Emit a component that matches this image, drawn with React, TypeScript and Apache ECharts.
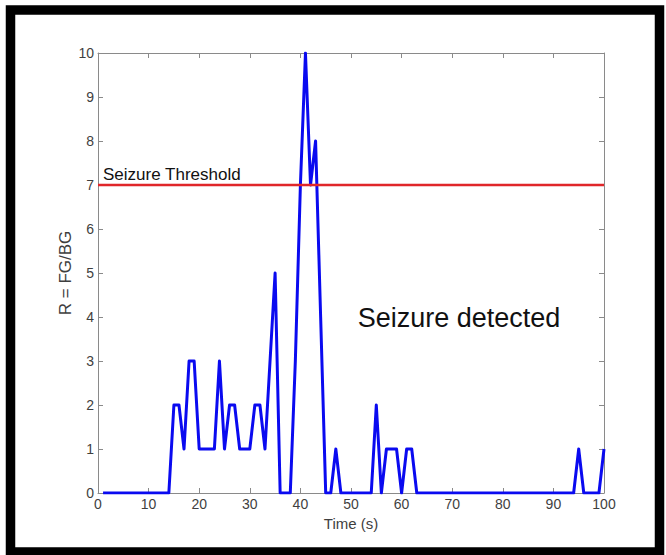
import React, { useEffect, useRef } from "react";
import * as echarts from "echarts";

// Time samples (s), one per second from 1 to 100
const timeStart = 1;
const timeCount = 100;
const times: number[] = Array.from({ length: timeCount }, (_, i) => timeStart + i);

// R = FG/BG values (t = 1 .. 100)
const ratioValues: number[] = [
  0, 0, 0, 0, 0, 0, 0, 0, 0, 0, // 1-10
  0, 0, 0, 0, 2, 2, 1, 3, 3, 1, // 11-20
  1, 1, 1, 3, 1, 2, 2, 1, 1, 1, // 21-30
  2, 2, 1, 3, 5, 0, 0, 0, 3, 7, // 31-40
  10, 7, 8, 4, 0, 0, 1, 0, 0, 0, // 41-50
  0, 0, 0, 0, 2, 0, 1, 1, 1, 0, // 51-60
  1, 1, 0, 0, 0, 0, 0, 0, 0, 0, // 61-70
  0, 0, 0, 0, 0, 0, 0, 0, 0, 0, // 71-80
  0, 0, 0, 0, 0, 0, 0, 0, 0, 0, // 81-90
  0, 0, 0, 0, 1, 0, 0, 0, 0, 1, // 91-100
];

const thresholdValue = 7;
const thresholdLabel = "Seizure Threshold";
const detectedLabel = "Seizure detected";

const xMin = 0;
const xMax = 100;
const xInterval = 10;
const yMin = 0;
const yMax = 10;
const yInterval = 1;

const FONT = "'Liberation Sans', Arial, Helvetica, sans-serif";

export default function App() {
  const ref = useRef<HTMLDivElement>(null);

  useEffect(() => {
    document.body.style.margin = "0";
    if (!ref.current) return;
    const chart = echarts.init(ref.current, undefined, { renderer: "svg" });

    const axisLineColor = "#8a8a8a";
    const labelColor = "#3f3f3f";

    const boxAxisLine = { show: true, onZero: false, lineStyle: { color: axisLineColor, width: 1 } };
    const boxTick = { show: true, inside: true, length: 5, lineStyle: { color: axisLineColor } };

    const option: any = {
      animation: false,
      backgroundColor: "#ffffff",
      textStyle: { fontFamily: FONT },
      grid: { left: 98, right: 62, top: 53, bottom: 62, containLabel: false },
      xAxis: [
        {
          type: "value",
          min: xMin,
          max: xMax,
          interval: xInterval,
          position: "bottom",
          name: "Time (s)",
          nameLocation: "middle",
          nameGap: 20,
          nameTextStyle: { fontSize: 15, color: labelColor, fontFamily: FONT },
          axisLine: boxAxisLine,
          axisTick: boxTick,
          axisLabel: { fontSize: 14, color: labelColor, margin: 4, fontFamily: FONT },
          splitLine: { show: false },
        },
        {
          type: "value",
          min: xMin,
          max: xMax,
          interval: xInterval,
          position: "top",
          axisLine: boxAxisLine,
          axisTick: boxTick,
          axisLabel: { show: false },
          splitLine: { show: false },
        },
      ],
      yAxis: [
        {
          type: "value",
          min: yMin,
          max: yMax,
          interval: yInterval,
          position: "left",
          name: "R = FG/BG",
          nameLocation: "middle",
          nameGap: 24,
          nameMoveOverlap: false,
          nameTextStyle: { fontSize: 17, color: labelColor, fontFamily: FONT },
          axisLine: boxAxisLine,
          axisTick: boxTick,
          axisLabel: { fontSize: 14, color: labelColor, margin: 4, fontFamily: FONT },
          splitLine: { show: false },
        },
        {
          type: "value",
          min: yMin,
          max: yMax,
          interval: yInterval,
          position: "right",
          axisLine: boxAxisLine,
          axisTick: boxTick,
          axisLabel: { show: false },
          splitLine: { show: false },
        },
      ],
      series: [
        {
          name: "R",
          type: "line",
          xAxisIndex: 0,
          yAxisIndex: 0,
          data: times.map((t, i) => [t, ratioValues[i]]),
          showSymbol: false,
          symbol: "none",
          lineStyle: { color: "#0a0af0", width: 3, join: "round" },
          z: 3,
        },
        {
          name: thresholdLabel,
          type: "line",
          xAxisIndex: 0,
          yAxisIndex: 0,
          data: [
            [xMin, thresholdValue],
            [xMax, thresholdValue],
          ],
          showSymbol: false,
          symbol: "none",
          lineStyle: { color: "#e0262a", width: 2.5 },
          z: 4,
        },
      ],
      graphic: [
        {
          type: "text",
          x: 103,
          y: 174,
          z: 10,
          style: {
            text: thresholdLabel,
            fontSize: 17,
            fontFamily: FONT,
            fill: "#111111",
            align: "left",
            verticalAlign: "middle",
          },
        },
        {
          type: "text",
          x: 459,
          y: 318,
          z: 10,
          style: {
            text: detectedLabel,
            fontSize: 27,
            fontFamily: FONT,
            fill: "#111111",
            align: "center",
            verticalAlign: "middle",
          },
        },
        {
          type: "rect",
          z: 20,
          shape: { x: 10.5, y: 10, width: 649, height: 542 },
          style: { fill: "none", stroke: "#000000", lineWidth: 9.5 },
        },
      ],
    };

    chart.setOption(option);
    return () => {
      chart.dispose();
    };
  }, []);

  return (
    <div
      ref={ref}
      style={{ position: "absolute", left: 0, top: 0, width: 666, height: 555, background: "#fff" }}
    />
  );
}
